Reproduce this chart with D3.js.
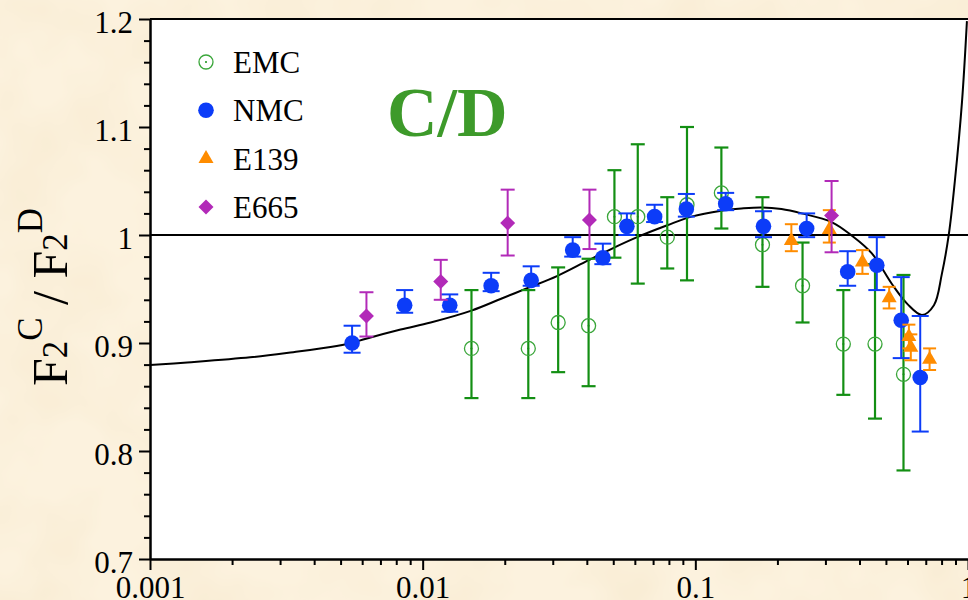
<!DOCTYPE html>
<html>
<head>
<meta charset="utf-8">
<script src="https://cdn.jsdelivr.net/npm/d3@7"></script>
<style>
  html, body { margin: 0; padding: 0; background: #fbf0da; }
  svg { display: block; }
  text { font-family: "Liberation Serif", "Times New Roman", serif; }
</style>
</head>
<body>
<svg id="chart" width="968" height="600"></svg>
<script>
// ---- data ----
// EMC (open circles)
var emcX  = [0.0151, 0.0244, 0.0314, 0.0406, 0.0505, 0.0615, 0.0789, 0.0932, 0.1246, 0.1763, 0.2473, 0.349, 0.456, 0.580];
var emcY  = [0.895, 0.895, 0.919, 0.916, 1.017, 1.017, 0.998, 1.028, 1.039, 0.991, 0.953, 0.899, 0.899, 0.871];
var emcHi = [0.949, 0.949, 0.970, 0.978, 1.060, 1.084, 1.035, 1.100, 1.081, 1.035, 0.993, 0.949, 0.973, 0.963];
var emcLo = [0.849, 0.849, 0.873, 0.860, 0.979, 0.955, 0.969, 0.958, 1.006, 0.952, 0.919, 0.852, 0.830, 0.782];

// NMC (filled circles)
var nmcX  = [0.00551, 0.00859, 0.01257, 0.01783, 0.0250, 0.0355, 0.0458, 0.0561, 0.0709, 0.0927, 0.1292, 0.1778, 0.256, 0.362, 0.463, 0.569, 0.668];
var nmcY  = [0.900, 0.935, 0.935, 0.953, 0.958, 0.986, 0.979, 1.008, 1.017, 1.024, 1.029, 1.008, 1.006, 0.966, 0.972, 0.921, 0.868];
var nmcHi = [0.916, 0.949, 0.945, 0.965, 0.971, 0.998, 0.992, 1.020, 1.028, 1.038, 1.039, 1.022, 1.020, 0.985, 0.998, 0.961, 0.925];
var nmcLo = [0.891, 0.928, 0.929, 0.948, 0.953, 0.980, 0.973, 1.000, 1.012, 1.017, 1.023, 0.998, 0.998, 0.953, 0.949, 0.886, 0.818];

// E139 (triangles)
var e139X  = [0.225, 0.310, 0.410, 0.514, 0.607, 0.617, 0.723];
var e139Y  = [0.995, 1.005, 0.975, 0.942, 0.906, 0.896, 0.885];
var e139Hi = [1.010, 1.023, 0.986, 0.952, 0.917, 0.908, 0.895];
var e139Lo = [0.985, 0.993, 0.964, 0.932, 0.895, 0.884, 0.875];

// E665 (diamonds)
var e665X  = [0.00622, 0.01165, 0.0205, 0.0409, 0.316];
var e665Y  = [0.925, 0.957, 1.011, 1.014, 1.018];
var e665Hi = [0.947, 0.977, 1.042, 1.042, 1.050];
var e665Lo = [0.906, 0.940, 0.981, 0.987, 0.984];

// model curve
var curveX = [0.001, 0.00137, 0.00233, 0.00335, 0.00459, 0.00548, 0.0062, 0.0083, 0.0107, 0.0151, 0.0194, 0.0243, 0.0311, 0.0401, 0.0491, 0.0612, 0.0789, 0.0967, 0.1246, 0.1476, 0.175, 0.207, 0.2453, 0.316, 0.375, 0.444, 0.526, 0.600, 0.678, 0.750, 0.802, 0.851, 0.895, 0.951, 0.991];
var curveY = [0.8796, 0.882, 0.8867, 0.8915, 0.8962, 0.900, 0.904, 0.9125, 0.919, 0.930, 0.941, 0.951, 0.962, 0.976, 0.987, 0.998, 1.009, 1.017, 1.0225, 1.0245, 1.0255, 1.024, 1.020, 1.012, 0.9994, 0.983, 0.9546, 0.936, 0.926, 0.935, 0.964, 1.001, 1.05, 1.124, 1.198];

var yMajor = [0.7, 0.8, 0.9, 1.0, 1.1, 1.2];
var xMajor = [0.001, 0.01, 0.1, 1];
var legendNames = ["EMC", "NMC", "E139", "E665"];

// ---- colours ----
var blue = "#0c3cf8", greenBar = "#138f13", greenMark = "#3aa63a",
    magenta = "#b22ab8", orange = "#ff8c00", titleGreen = "#3d9a2a";

var svg = d3.select("#chart");
var W = 968, H = 600;

// paper background
var defs = svg.append("defs");
var paper = defs.append("filter").attr("id", "paper")
    .attr("x", 0).attr("y", 0).attr("width", "100%").attr("height", "100%");
paper.append("feTurbulence")
    .attr("type", "fractalNoise").attr("baseFrequency", 0.012)
    .attr("numOctaves", 3).attr("seed", 7);
paper.append("feColorMatrix").attr("type", "matrix")
    .attr("values", "0 0 0 0 0.80  0 0 0 0 0.62  0 0 0 0 0.35  0.32 0 0 0 -0.12");

svg.append("rect").attr("width", W).attr("height", H).attr("fill", "#fcf2de");
svg.append("rect").attr("width", W).attr("height", H).attr("filter", "url(#paper)");

var x = d3.scaleLog().domain([0.001, 1]).range([150, 968]);
var y = d3.scaleLinear().domain([0.7, 1.2]).range([559, 19]);

defs.append("clipPath").attr("id", "plotClip")
    .append("rect").attr("x", 150).attr("y", 19).attr("width", 818).attr("height", 540);

// white plot area
svg.append("rect")
    .attr("x", 150).attr("y", 19).attr("width", 818).attr("height", 540)
    .attr("fill", "#ffffff");

// frame top
svg.append("line")
    .attr("x1", 150).attr("x2", 968).attr("y1", y(1.2)).attr("y2", y(1.2))
    .attr("stroke", "#000").attr("stroke-width", 2);

// axes
var yMinor = d3.range(0.7, 1.2001, 0.02).filter(function (v) {
    return Math.abs(v * 10 - Math.round(v * 10)) > 1e-6;
});
var xMinor = [];
[0.001, 0.01, 0.1].forEach(function (dec) {
    for (var k = 2; k <= 9; k++) xMinor.push(dec * k);
});

function styleAxis(g) {
    g.selectAll("path, line").attr("stroke", "#000").attr("stroke-width", 2);
    g.selectAll("text").attr("fill", "#000").style("font-size", "31px")
        .style("font-family", "'Liberation Serif', 'Times New Roman', serif");
}

svg.append("g").attr("transform", "translate(150,0)")
    .call(d3.axisLeft(y).tickValues(yMinor).tickSize(6).tickSizeOuter(0).tickFormat(""))
    .call(styleAxis);
svg.append("g").attr("transform", "translate(150,0)")
    .call(d3.axisLeft(y).tickValues(yMajor).tickSize(11).tickSizeOuter(0).tickPadding(6)
        .tickFormat(d3.format("~g")))
    .call(styleAxis)
    .call(function (g) { g.selectAll("text").attr("dy", "0.42em"); });

svg.append("g").attr("transform", "translate(0,559)")
    .call(d3.axisBottom(x).tickValues(xMinor).tickSize(6).tickSizeOuter(0).tickFormat(""))
    .call(styleAxis);
svg.append("g").attr("transform", "translate(0,559)")
    .call(d3.axisBottom(x).tickValues(xMajor).tickSize(11).tickSizeOuter(0).tickPadding(8)
        .tickFormat(d3.format("~g")))
    .call(styleAxis)
    .call(function (g) { g.selectAll("text").attr("dy", "0.66em"); });

// axis title
var yt = svg.append("text")
    .attr("transform", "translate(67,297) rotate(-90)")
    .attr("text-anchor", "middle")
    .style("font-size", "50px").attr("fill", "#000");
yt.append("tspan").text("F");
yt.append("tspan").style("font-size", "35px").text("2");
yt.append("tspan").style("font-size", "35px").attr("dy", -25).text("C");
yt.append("tspan").attr("dy", 25).text(" / F");
yt.append("tspan").style("font-size", "35px").text("2");
yt.append("tspan").style("font-size", "35px").attr("dy", -25).text("D");

// title
svg.append("text")
    .attr("x", 387).attr("y", 136)
    .style("font-size", "70px").style("font-weight", "bold")
    .attr("fill", titleGreen)
    .text("C/D");

var plot = svg.append("g").attr("clip-path", "url(#plotClip)");

// reference line at 1
plot.append("line")
    .attr("x1", 150).attr("x2", 968).attr("y1", y(1)).attr("y2", y(1))
    .attr("stroke", "#000").attr("stroke-width", 2);

// model curve
var curvePts = curveX.map(function (v, i) { return [v, curveY[i]]; });
plot.append("path")
    .datum(curvePts)
    .attr("fill", "none").attr("stroke", "#000").attr("stroke-width", 2)
    .attr("d", d3.line()
        .x(function (d) { return x(d[0]); })
        .y(function (d) { return y(d[1]); })
        .curve(d3.curveCatmullRom.alpha(0.5)));

// error bars with caps
function errorBars(xs, lo, hi, color, cap, width) {
    var g = plot.append("g").attr("stroke", color).attr("stroke-width", width).attr("fill", "none");
    xs.forEach(function (v, i) {
        var px = x(v);
        g.append("line").attr("x1", px).attr("x2", px).attr("y1", y(lo[i])).attr("y2", y(hi[i]));
        g.append("line").attr("x1", px - cap).attr("x2", px + cap).attr("y1", y(lo[i])).attr("y2", y(lo[i]));
        g.append("line").attr("x1", px - cap).attr("x2", px + cap).attr("y1", y(hi[i])).attr("y2", y(hi[i]));
    });
}

var triPath = "M0,-8.5L7.5,4.5L-7.5,4.5Z";
var diaPath = "M0,-7.5L7.5,0L0,7.5L-7.5,0Z";

function emcMark(g) {
    g.append("circle").attr("r", 7).attr("fill", "none")
        .attr("stroke", greenMark).attr("stroke-width", 1.3);
    g.append("circle").attr("r", 1).attr("fill", greenBar);
}
function nmcMark(g) { g.append("circle").attr("r", 7.8).attr("fill", blue); }
function e139Mark(g) { g.append("path").attr("d", triPath).attr("fill", orange); }
function e665Mark(g) { g.append("path").attr("d", diaPath).attr("fill", magenta); }

function markers(xs, ys, draw) {
    xs.forEach(function (v, i) {
        var g = plot.append("g").attr("transform", "translate(" + x(v) + "," + y(ys[i]) + ")");
        draw(g);
    });
}

errorBars(emcX, emcLo, emcHi, greenBar, 7, 2.2);
markers(emcX, emcY, emcMark);

errorBars(nmcX, nmcLo, nmcHi, blue, 8.5, 2);
markers(nmcX, nmcY, nmcMark);

errorBars(e139X, e139Lo, e139Hi, orange, 6.5, 2);
markers(e139X, e139Y, e139Mark);

errorBars(e665X, e665Lo, e665Hi, magenta, 7, 2);
markers(e665X, e665Y, e665Mark);

// legend
var legendDraw = [emcMark, nmcMark, e139Mark, e665Mark];
legendNames.forEach(function (name, i) {
    var ly = 62 + i * 48.3;
    var g = svg.append("g").attr("transform", "translate(206," + ly + ")");
    legendDraw[i](g);
    svg.append("text")
        .attr("x", 233).attr("y", ly + 11)
        .style("font-size", "31px").attr("fill", "#000")
        .text(name);
});
</script>
</body>
</html>
